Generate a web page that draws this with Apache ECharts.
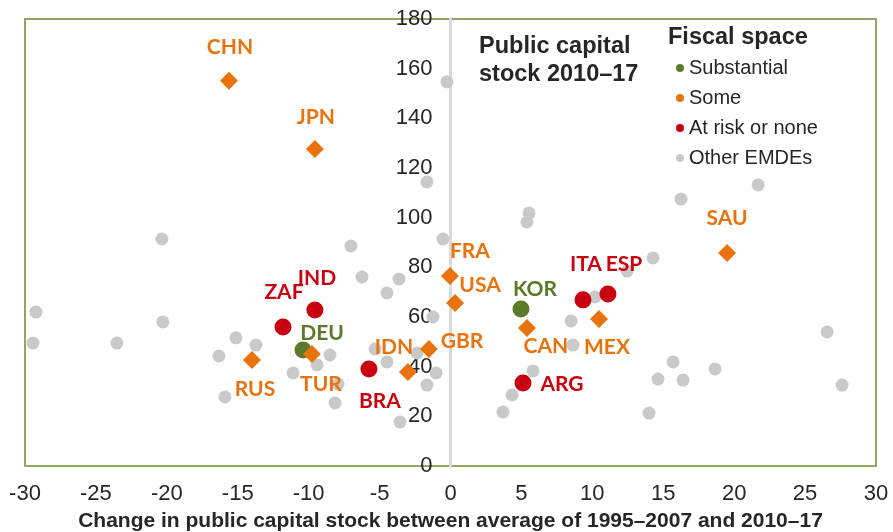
<!DOCTYPE html>
<html>
<head>
<meta charset="utf-8">
<script src="https://cdn.jsdelivr.net/npm/echarts@6/dist/echarts.min.js"></script>
<style>
  html, body { margin: 0; padding: 0; background: #fff; }
  #chart { width: 893px; height: 532px; }
</style>
</head>
<body>
<div id="chart"></div>
<script>
// [name, change 1995-2007 vs 2010-17, public capital stock 2010-17]
const substantial = [
  ['KOR', 4.97, 63.2],
  ['DEU', -10.4, 46.7]
]
const some = [
  ['CHN', -15.62, 155.1],
  ['JPN', -9.56, 127.7],
  ['TUR', -9.77, 45.1],
  ['RUS', -14.0, 42.7],
  ['IDN', -3.0, 37.9],
  ['GBR', -1.52, 47.1],
  ['FRA', -0.04, 76.5],
  ['USA', 0.32, 65.6],
  ['CAN', 5.39, 55.6],
  ['MEX', 10.47, 59.2],
  ['SAU', 19.5, 85.8]
]
const atRisk = [
  ['IND', -9.56, 62.8],
  ['ZAF', -11.81, 56.0],
  ['BRA', -5.75, 39.1],
  ['ARG', 5.11, 33.4],
  ['ITA', 9.34, 66.9],
  ['ESP', 11.1, 69.3]
]
const otherEmdes = [
  [-0.25, 154.7], [-1.66, 114.4], [-20.35, 91.4], [-7.02, 88.6], [-0.53, 91.4],
  [21.69, 113.2], [16.25, 107.5], [5.54, 101.9], [5.39, 98.3], [14.28, 83.8],
  [12.45, 78.5], [10.19, 68.1], [8.5, 58.4], [8.64, 48.7], [5.82, 38.3],
  [4.34, 28.6], [3.7, 21.7], [15.69, 41.9], [14.63, 35.0], [16.4, 34.6],
  [18.65, 39.1], [14.0, 21.3], [26.55, 54.0], [27.61, 32.6], [-29.23, 62.0],
  [-29.44, 49.5], [-23.52, 49.5], [-20.28, 58.0], [-6.24, 76.1], [-3.63, 75.3],
  [-4.48, 69.7], [-1.23, 60.0], [-15.13, 51.6], [-13.72, 48.7], [-16.33, 44.3],
  [-8.5, 44.7], [-9.41, 40.7], [-11.1, 37.5], [-15.9, 27.8], [-8.14, 25.4],
  [-7.93, 33.0], [-5.32, 47.1], [-4.48, 41.9], [-2.36, 45.5], [-1.02, 37.5],
  [-1.66, 32.6], [-3.56, 17.7]
]
const seriesNames = ['Substantial', 'Some', 'At risk or none', 'Other EMDEs']

// label offsets from the marker centre, in pixels
const labelOffset = {
  KOR: [14, -20], DEU: [19, -17],
  CHN: [1, -34], JPN: [1, -32], TUR: [9, 30], RUS: [3, 29], IDN: [-14, -25],
  GBR: [33, -8], FRA: [20, -25], USA: [25, -18], CAN: [19, 18], MEX: [8, 28],
  SAU: [0, -35],
  IND: [2, -32], ZAF: [1, -35], BRA: [11, 32], ARG: [39, 1], ITA: [3, -36],
  ESP: [16, -30]
}

const GREEN = '#5b7b2b'
const ORANGE = '#e8720c'
const RED = '#c8000f'
const GRAY = '#c9c9c9'

const GRID_LEFT = 25
const GRID_RIGHT = 17

const chart = echarts.init(document.getElementById('chart'))

function named(rows, color) {
  return rows.map(r => ({
    name: r[0],
    value: [r[1], r[2]],
    label: {
      show: true,
      formatter: r[0],
      position: 'inside',
      offset: labelOffset[r[0]],
      color: color,
      fontFamily: 'Lato',
      fontWeight: 700,
      fontSize: 21
    }
  }))
}

// y axis sits on x = 0, which is the middle of the symmetric x range
const gridWidth = 893 - GRID_LEFT - GRID_RIGHT

chart.setOption({
  animation: false,
  textStyle: { fontFamily: 'Liberation Sans, Arial, sans-serif' },
  grid: {
    left: GRID_LEFT, right: GRID_RIGHT, top: 19, bottom: 66,
    outerBoundsMode: 'none',
    containLabel: false,
    show: true, borderColor: '#94a567', borderWidth: 2
  },
  title: [{
    text: 'Public capital\nstock 2010–17',
    left: 479, top: 33, padding: 0,
    textStyle: { fontSize: 23.5, fontWeight: 'bold', lineHeight: 28, color: '#262626' }
  }, {
    text: 'Fiscal space',
    left: 668, top: 25, padding: 0,
    textStyle: { fontSize: 23.5, fontWeight: 'bold', lineHeight: 26, color: '#262626' }
  }],
  legend: {
    orient: 'vertical',
    left: 676, top: 58, padding: 0,
    itemGap: 10, itemWidth: 8, itemHeight: 8,
    icon: 'circle',
    data: seriesNames,
    textStyle: { fontSize: 20, color: '#262626' }
  },
  xAxis: {
    type: 'value',
    min: -30, max: 30, interval: 5,
    name: 'Change in public capital stock between average of 1995–2007 and 2010–17',
    nameLocation: 'middle',
    nameGap: 45,
    nameTextStyle: { fontSize: 21, fontWeight: 'bold', color: '#262626' },
    axisLine: { show: false },
    axisTick: { show: false },
    splitLine: { show: false },
    axisLabel: { fontSize: 22, color: '#262626', margin: 17 }
  },
  yAxis: {
    type: 'value',
    min: 0, max: 180, interval: 20,
    offset: -gridWidth / 2,
    axisLine: { show: true, onZero: false, lineStyle: { color: '#dadada', width: 3 } },
    axisTick: { show: false },
    splitLine: { show: false },
    axisLabel: { fontSize: 22, color: '#262626', margin: 18 }
  },
  series: [{
    name: 'Other EMDEs',
    type: 'scatter',
    symbol: 'circle',
    symbolSize: 13,
    z: 1,
    itemStyle: { color: GRAY, opacity: 1 },
    data: otherEmdes
  }, {
    name: 'Substantial',
    type: 'scatter',
    symbol: 'circle',
    symbolSize: 17,
    z: 3,
    itemStyle: { color: GREEN, opacity: 1 },
    data: named(substantial, GREEN)
  }, {
    name: 'Some',
    type: 'scatter',
    symbol: 'diamond',
    symbolSize: 18,
    z: 4,
    itemStyle: { color: ORANGE, opacity: 1 },
    data: named(some, ORANGE)
  }, {
    name: 'At risk or none',
    type: 'scatter',
    symbol: 'circle',
    symbolSize: 17,
    z: 3,
    itemStyle: { color: RED, opacity: 1 },
    data: named(atRisk, RED)
  }]
})
</script>
</body>
</html>
